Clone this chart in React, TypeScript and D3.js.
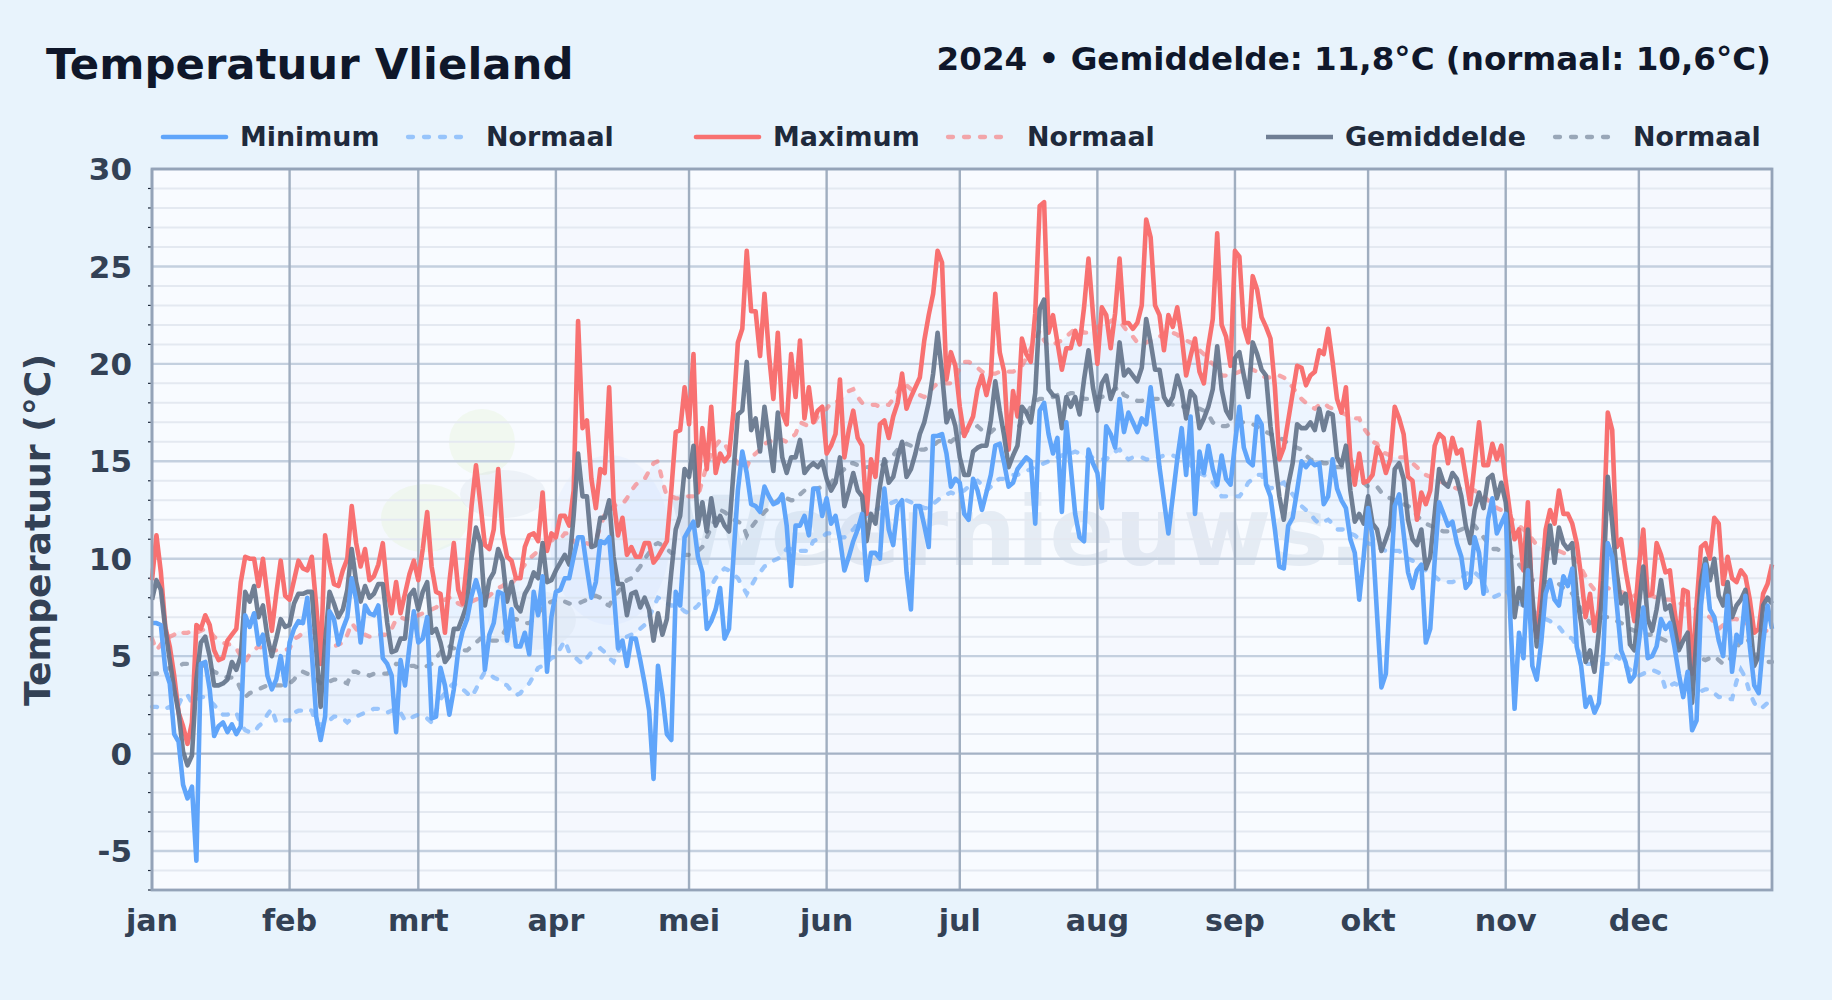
import React, { useEffect, useRef } from 'react';
import * as d3 from 'd3';

const monthLabels = ['jan', 'feb', 'mrt', 'apr', 'mei', 'jun', 'jul', 'aug', 'sep', 'okt', 'nov', 'dec'];

// daily values 2024, one row per month
const maxTemp = [
  8.9,11.2,9.3,6.5,5.5,4.0,2.1,1.4,0.5,1.6,6.6,6.4,7.1,6.6,5.3,4.8,4.9,5.8,6.1,6.4,8.8,10.1,10.0,10.0,8.6,10.0,8.1,6.3,8.2,9.9,8.1,
  7.9,8.9,9.9,9.5,9.4,10.1,7.6,4.6,11.2,9.8,8.7,8.6,9.4,10.0,12.7,10.8,9.6,10.5,8.9,9.1,9.7,10.8,8.4,7.2,8.8,7.2,8.2,9.2,9.9,
  8.9,10.5,12.4,9.6,8.3,8.2,6.2,8.8,10.8,8.4,7.7,9.9,12.7,14.8,12.8,10.7,10.5,11.5,14.6,11.3,10.1,9.9,9.0,9.0,10.6,11.2,11.3,10.9,13.4,10.4,11.3,
  11.1,12.2,12.2,11.7,13.5,22.2,16.7,17.1,14.1,12.6,14.6,14.4,18.8,13.0,11.2,12.1,10.2,10.6,10.1,10.1,10.8,10.8,9.8,10.1,10.5,10.9,13.5,16.5,16.6,18.8,
  16.9,20.5,13.4,16.7,14.6,17.8,14.4,15.4,15.0,15.3,17.5,21.1,21.8,25.8,22.7,22.7,20.4,23.6,20.5,18.2,21.6,17.5,16.9,20.5,18.3,21.2,17.2,18.8,17.0,17.6,17.8,
  15.4,15.8,16.4,19.2,15.2,16.6,17.6,16.2,15.8,12.3,15.1,14.2,16.9,17.1,16.2,17.3,18.0,19.5,17.7,18.3,18.8,19.3,21.2,22.5,23.6,25.8,25.2,19.2,20.6,19.9,
  17.8,16.3,16.8,17.3,18.7,19.4,18.4,19.4,23.6,20.6,19.6,15.6,18.6,17.3,21.3,20.5,20.1,22.6,28.1,28.3,21.6,22.5,21.1,19.7,20.8,20.8,21.7,21.0,22.9,25.4,22.6,
  20.0,22.9,22.5,20.8,22.6,25.4,22.1,22.1,21.8,22.1,23.0,27.4,26.5,23.0,22.5,20.7,22.5,21.9,22.9,21.4,19.4,20.4,21.3,19.6,19.0,20.9,22.3,26.7,22.0,21.4,19.9,
  25.8,25.5,21.9,21.1,24.5,23.8,22.4,21.9,21.3,18.8,15.1,15.7,17.1,18.5,19.9,19.8,18.9,19.4,19.6,20.7,20.5,21.8,20.1,18.2,17.5,18.8,15.2,13.8,15.4,13.9,
  14.0,14.3,15.7,15.3,14.4,15.1,17.8,17.2,16.4,14.2,14.0,12.0,13.4,12.8,13.5,15.8,16.4,16.2,14.9,16.2,15.4,15.6,14.2,12.8,14.9,17.0,14.8,14.8,15.9,15.1,15.8,
  14.0,12.3,11.0,11.5,9.4,12.9,7.6,6.0,8.6,11.5,12.5,11.8,13.5,12.3,12.3,11.8,10.8,9.1,7.0,8.2,6.3,7.4,11.1,17.5,16.6,10.6,11.0,9.4,8.1,6.8,
  9.6,11.5,8.1,8.2,10.8,10.2,9.3,9.4,7.4,5.7,8.4,8.3,4.1,7.6,10.6,10.8,10.0,12.1,11.8,8.7,10.1,9.0,8.8,9.4,9.1,7.9,6.2,6.4,8.2,8.7,9.7,
];

const minTemp = [
  6.7,6.7,6.6,4.3,3.6,1.0,0.6,-1.6,-2.3,-1.7,-5.5,4.6,4.7,3.3,0.9,1.4,1.6,1.1,1.5,1.0,1.4,7.1,6.5,7.2,5.6,6.1,4.0,3.3,3.8,5.0,3.5,
  5.7,6.4,6.8,6.7,8.0,5.2,1.9,0.7,1.9,7.3,6.9,5.6,6.4,7.0,9.0,7.9,5.7,7.6,7.2,7.1,7.6,4.9,4.6,4.0,1.1,4.8,3.5,5.5,7.3,
  5.7,5.9,7.0,1.8,1.9,4.4,3.5,2.0,3.3,5.3,6.3,6.9,8.1,8.9,8.1,4.3,6.1,6.7,8.3,8.2,5.8,7.4,5.5,5.5,6.2,5.1,8.3,7.1,9.1,4.2,7.0,
  8.3,8.4,9.0,9.0,10.1,11.1,11.1,9.5,8.0,8.8,10.9,10.8,11.1,8.4,5.4,5.8,4.5,5.9,5.9,4.8,3.6,2.2,-1.3,4.5,3.0,1.0,0.7,8.3,7.6,11.1,
  11.5,11.9,10.1,9.3,6.4,6.8,7.4,8.5,5.9,6.4,10.1,13.5,15.5,14.4,12.8,12.7,12.4,13.7,13.2,12.8,12.9,13.3,11.7,8.6,11.7,11.7,12.2,11.2,13.6,13.6,12.2,
  13.1,11.8,12.2,11.0,9.4,10.1,10.9,11.5,12.3,8.9,10.3,10.3,10.0,13.6,11.5,10.7,12.7,13.0,9.3,7.4,12.7,12.7,11.7,10.6,16.3,16.3,16.4,15.4,13.7,14.1,
  13.9,12.3,12.0,14.1,13.5,12.5,13.4,14.3,15.8,15.9,14.9,13.7,13.9,14.6,14.9,15.2,15.0,11.8,17.6,18.0,16.4,15.4,16.2,12.4,17.0,14.7,12.3,11.1,10.9,15.6,14.9,
  14.4,12.6,16.8,16.4,15.7,18.2,16.5,17.5,17.0,16.5,17.2,16.9,18.8,16.8,14.7,13.0,11.3,13.2,15.1,16.7,14.3,17.3,12.3,15.5,14.4,15.8,14.6,13.8,15.3,14.1,13.8,
  15.9,17.8,15.7,15.0,14.8,17.3,16.9,13.8,13.2,11.5,9.6,9.5,11.7,12.1,13.5,15.0,14.7,15.0,14.8,14.9,12.8,13.2,15.1,13.6,13.0,12.6,11.0,10.3,7.9,10.1,
  12.6,11.1,7.2,3.4,4.1,8.6,12.7,13.3,11.3,9.3,8.5,9.4,9.7,5.7,6.4,9.9,12.9,12.3,11.7,11.9,10.8,10.1,8.5,8.8,11.1,10.3,8.2,12.0,13.1,11.3,11.8,
  12.3,7.2,2.3,6.2,4.9,9.4,4.5,3.8,5.7,8.2,8.9,7.9,7.6,9.1,8.6,9.5,5.5,4.5,2.4,2.9,2.1,2.6,5.2,10.8,10.1,7.7,5.3,4.7,3.7,4.0,
  5.7,7.5,4.9,5.0,5.5,6.9,6.4,6.7,5.5,4.1,2.9,4.2,1.2,1.7,7.6,9.7,7.4,7.0,5.8,5.0,8.1,4.2,6.1,5.7,8.1,5.5,3.5,3.1,5.7,7.6,6.4,
];

const avgTemp = [
  7.9,8.9,8.4,6.4,4.8,3.3,2.1,0.1,-0.6,-0.1,3.8,5.7,6.0,5.0,3.5,3.5,3.6,3.8,4.7,4.3,5.0,8.3,7.8,8.6,7.0,7.6,6.0,5.0,5.9,6.9,6.5,
  6.6,7.7,8.2,8.2,8.3,8.3,5.3,2.4,5.7,8.3,7.7,7.0,7.4,8.4,10.5,8.8,7.8,8.6,8.0,8.2,8.7,8.7,6.7,5.2,5.3,5.9,5.9,8.1,8.4,
  7.4,8.3,8.8,6.2,6.4,5.7,4.7,5.0,6.4,6.4,7.0,7.7,10.1,11.6,10.8,7.6,8.9,9.3,10.5,9.9,7.8,8.8,7.6,7.3,8.2,8.6,9.3,9.0,10.8,8.8,8.9,
  9.4,9.8,10.2,9.7,12.2,15.4,13.2,13.2,10.6,10.7,12.1,12.1,13.0,10.1,8.7,8.7,7.1,8.2,8.3,7.5,8.0,7.4,5.8,7.2,6.1,6.9,9.3,11.5,12.2,14.6,
  14.2,15.8,11.7,12.9,11.4,13.1,11.7,12.2,11.7,11.4,14.4,17.4,17.6,20.1,16.6,17.2,15.5,17.8,16.1,14.5,17.5,15.2,14.4,15.2,15.2,16.1,14.4,14.7,14.9,14.7,15.0,
  14.1,13.5,13.9,15.2,12.7,13.5,14.4,13.5,13.2,10.9,12.3,11.8,13.7,15.1,13.9,14.2,15.2,16.0,14.2,14.6,15.4,16.4,17.0,18.0,19.5,21.6,19.5,17.0,17.6,16.8,
  15.2,14.3,14.3,15.5,15.7,15.8,15.8,17.1,19.1,17.6,16.3,14.7,15.3,15.8,17.8,17.5,17.0,18.5,22.8,23.3,18.7,18.4,18.3,16.7,18.3,17.8,18.3,17.4,19.2,20.7,18.8,
  17.6,19.0,19.4,18.2,18.8,21.1,19.4,19.7,19.4,19.1,19.8,22.3,21.1,19.7,19.7,18.3,17.9,18.3,19.4,18.6,17.2,18.6,18.3,16.7,17.2,17.8,18.7,20.9,18.7,17.6,17.2,
  20.3,20.6,19.4,18.3,21.1,20.5,19.7,19.4,16.8,15.1,13.2,12.0,13.8,14.9,16.9,16.7,16.7,17.0,16.6,17.7,16.6,17.5,17.4,15.2,14.8,15.8,13.5,11.9,12.3,11.8,
  13.2,11.8,11.5,10.4,11.0,11.7,14.6,14.9,14.1,12.0,11.0,10.7,11.5,9.5,10.1,12.3,14.6,13.9,13.7,14.4,14.1,13.2,11.7,10.8,12.5,13.4,12.6,14.1,14.3,13.1,13.9,
  12.9,10.6,7.0,8.5,7.6,11.5,8.1,5.5,7.2,9.6,11.7,9.8,11.6,10.8,10.5,10.8,8.1,6.7,4.7,5.3,4.2,6.3,8.9,14.2,11.8,9.3,7.7,8.2,5.6,5.3,
  7.6,9.6,6.9,6.3,7.4,8.9,7.4,7.6,6.5,5.3,5.8,6.2,2.6,6.0,8.8,10.0,8.9,10.0,8.1,7.6,8.8,7.0,7.6,7.9,8.4,6.9,4.5,5.0,7.6,8.0,7.7,
];

const normalMax = [
  5.9,5.3,5.6,5.9,6.0,6.1,6.3,6.2,6.2,6.3,6.2,6.3,6.4,6.3,6.0,5.8,5.7,5.6,5.6,5.4,5.0,4.7,5.1,5.3,5.5,5.4,5.4,5.3,5.3,5.3,5.3,
  5.4,5.9,6.0,6.2,6.3,6.3,6.1,5.9,5.7,5.5,5.5,5.6,5.7,6.1,6.7,6.4,6.1,6.1,6.0,6.0,6.1,6.1,6.1,6.4,6.9,7.0,6.9,6.9,7.0,
  7.1,7.2,7.3,7.4,7.5,7.7,7.9,8.0,8.0,7.7,7.6,7.7,7.8,7.9,8.0,8.0,8.1,8.3,8.5,8.6,8.8,8.7,9.0,9.4,9.7,10.0,10.2,10.4,10.7,10.5,10.9,
  11.2,11.0,11.3,11.3,10.9,10.7,10.7,10.8,10.7,11.0,11.6,12.3,12.4,12.7,12.8,12.8,13.1,13.5,13.8,14.0,14.1,14.5,14.9,15.0,14.0,13.2,13.2,13.1,13.1,13.2,
  13.2,13.2,13.2,14.0,14.8,15.4,15.8,16.1,15.9,15.5,15.2,14.9,14.6,14.7,15.2,15.4,15.6,15.9,16.0,16.1,16.1,16.1,16.0,16.2,16.4,17.0,16.9,16.8,16.9,17.3,17.6,
  17.7,18.0,18.0,18.2,18.3,18.6,18.7,18.3,18.0,18.0,17.9,17.9,17.8,17.9,17.9,18.2,18.6,19.0,18.9,18.7,18.5,18.4,18.3,18.5,18.8,19.0,19.1,19.0,19.0,19.3,
  19.8,20.1,20.1,20.0,19.8,19.6,19.5,19.5,19.5,19.6,19.6,19.6,19.6,19.7,19.9,20.3,20.8,21.3,21.7,21.2,20.9,21.0,21.1,21.2,21.4,21.6,21.8,21.8,21.6,21.6,21.7,
  21.9,22.0,22.0,22.2,22.3,22.2,21.9,21.6,21.4,21.1,21.0,21.1,21.2,21.3,21.4,21.5,21.7,21.6,21.5,21.3,21.2,21.1,20.9,20.7,20.5,20.2,20.0,19.8,19.4,19.4,19.5,
  19.5,19.6,19.7,19.8,19.7,19.6,19.4,19.3,19.3,19.4,19.4,19.3,19.1,18.8,18.5,18.2,18.0,17.8,17.7,17.9,18.0,17.8,17.7,17.6,17.5,17.4,17.3,17.2,17.2,16.7,
  16.4,16.0,15.9,15.5,15.4,15.3,15.2,15.2,15.2,15.1,14.9,14.7,14.5,14.3,14.2,14.1,14.0,13.9,13.8,13.7,13.6,13.6,13.6,13.6,13.5,13.3,13.2,13.0,12.9,12.6,12.5,
  12.4,12.1,11.9,11.7,11.5,11.3,11.0,10.7,10.6,10.5,10.5,10.4,10.4,10.3,10.2,10.1,9.9,9.5,9.1,8.7,8.4,8.5,8.5,8.5,8.4,8.3,8.3,8.2,8.2,8.1,
  8.1,8.1,8.1,8.1,8.0,8.0,7.9,7.9,7.8,7.7,7.7,7.6,7.5,7.4,7.3,7.1,7.0,6.7,6.4,6.6,6.8,6.9,6.9,6.8,6.7,6.6,6.5,6.4,6.3,6.3,6.2,
];

const normalMin = [
  2.4,2.4,2.3,2.3,2.4,2.2,2.5,3.0,3.0,2.6,2.7,2.9,2.9,2.7,2.5,2.2,2.0,2.0,2.1,2.1,1.5,1.2,1.1,1.1,1.4,1.6,2.0,2.3,1.6,1.6,1.7,
  1.7,2.1,2.2,2.2,2.3,2.2,1.5,1.5,1.5,1.7,1.9,1.9,1.8,1.6,1.8,1.9,2.0,2.1,2.2,2.3,2.3,2.2,2.1,2.2,2.3,2.1,1.7,1.8,1.9,
  2.0,1.9,1.8,1.6,2.2,2.8,3.1,3.4,3.6,3.4,3.3,3.1,2.9,3.3,3.8,4.2,4.1,3.9,3.8,3.6,3.5,3.2,3.0,3.1,3.4,3.6,4.0,4.4,4.5,4.7,4.9,
  5.0,5.4,5.8,5.2,5.0,4.8,4.6,4.9,5.2,5.3,5.4,5.2,4.9,4.7,5.2,5.6,6.0,6.1,6.2,6.4,6.6,7.0,7.5,8.0,7.9,7.7,7.6,7.6,7.5,7.3,
  7.2,7.4,7.6,7.9,8.2,8.6,9.0,9.3,9.5,9.4,9.2,9.0,8.6,8.2,8.6,9.0,9.3,9.6,9.7,9.9,10.0,10.2,10.5,10.5,10.4,10.4,10.4,10.4,10.9,11.0,11.1,
  11.3,11.3,11.2,11.1,11.1,11.3,11.5,11.8,12.0,12.2,12.4,12.5,12.6,12.7,12.8,12.9,13.0,13.0,13.0,12.9,12.8,12.7,12.6,12.6,12.8,13.0,13.2,13.3,13.4,13.3,
  13.4,13.5,13.7,13.9,14.0,13.8,13.5,13.7,14.0,14.1,14.1,14.2,14.3,14.3,14.4,14.5,14.6,14.7,14.8,14.9,15.0,15.1,15.2,15.3,15.4,15.4,15.5,15.4,15.3,15.2,15.2,
  15.1,15.1,15.1,15.3,15.5,15.6,15.3,15.1,15.2,15.2,15.2,15.1,15.1,15.2,15.2,15.3,15.3,15.3,15.2,15.1,15.0,14.8,14.6,14.4,14.3,14.1,13.9,13.6,13.2,13.2,13.2,
  13.2,13.2,13.5,13.9,14.1,14.3,14.3,13.8,13.6,13.7,13.8,13.9,13.6,13.3,13.0,12.7,12.5,12.3,12.0,11.8,11.9,12.0,11.8,11.5,11.5,11.5,11.3,11.2,11.0,10.9,
  10.8,10.7,10.6,10.5,10.4,10.3,10.4,10.4,10.2,10.0,9.9,9.7,9.5,9.4,9.2,9.1,8.9,8.8,8.8,8.8,8.9,9.0,9.2,9.4,9.3,9.1,8.8,8.2,8.0,8.1,8.2,
  8.4,8.1,7.9,7.7,7.6,7.5,7.3,7.2,7.1,6.9,6.8,6.6,6.5,6.2,6.0,5.9,5.5,5.0,4.6,4.6,4.7,4.7,4.6,4.6,4.7,5.0,4.8,4.5,4.3,4.2,
  4.0,4.1,4.2,4.3,4.2,4.1,3.3,3.5,3.6,3.5,3.4,3.3,3.3,3.2,3.2,3.3,3.3,3.1,2.9,2.9,2.8,2.8,3.7,4.3,3.9,3.1,2.6,2.3,2.4,2.6,2.7,
];

const normalAvg = [
  4.1,4.1,4.2,4.3,4.4,4.5,4.5,4.6,4.6,4.6,4.6,4.5,4.5,4.4,4.2,4.1,4.0,3.9,3.9,3.8,3.3,2.9,3.1,3.2,3.3,3.4,3.5,3.5,3.5,3.5,3.5,
  3.6,3.8,4.1,4.2,4.1,4.0,3.8,3.6,3.6,3.7,3.8,3.8,3.7,3.6,4.2,4.2,4.1,4.1,4.0,4.1,4.1,4.1,4.1,4.3,4.6,4.6,4.5,4.5,4.5,
  4.4,4.4,4.5,4.6,4.9,5.2,5.5,5.5,5.4,5.4,5.3,5.3,5.5,5.7,5.9,5.9,5.8,5.8,5.8,6.1,6.5,6.9,6.9,6.8,6.7,6.7,6.9,7.2,7.5,7.7,7.8,
  7.9,7.9,7.8,7.7,7.7,7.7,7.8,7.9,8.0,8.1,8.0,7.7,7.6,8.0,8.3,8.6,8.9,9.0,9.3,9.6,10.0,10.3,10.7,10.8,10.7,10.5,10.3,10.3,10.3,10.2,
  10.2,10.3,10.4,10.6,11.1,11.6,12.1,12.5,12.4,12.2,12.0,11.9,11.8,11.2,11.6,11.9,12.1,12.4,12.6,12.8,13.0,13.2,13.1,13.0,13.0,13.3,13.5,13.5,13.6,13.6,13.7,
  13.7,13.9,14.2,14.4,14.6,14.9,14.9,14.8,14.8,14.7,14.7,14.7,14.7,14.9,15.1,15.3,15.6,15.8,15.9,15.8,15.7,15.6,15.6,15.7,15.8,16.0,16.1,16.1,16.0,16.2,
  16.4,16.5,16.6,16.7,16.8,16.6,16.4,16.5,16.7,16.7,16.7,16.7,16.7,16.7,17.0,17.4,17.8,18.1,18.2,18.2,18.3,18.3,18.4,18.4,18.4,18.5,18.5,18.4,18.2,18.2,18.3,
  18.3,18.3,18.4,18.5,18.7,18.8,18.4,18.3,18.2,18.1,18.1,18.2,18.2,18.2,18.2,18.1,18.0,17.9,17.8,17.8,17.8,17.7,17.7,17.7,17.6,17.4,17.0,16.8,16.8,16.8,16.9,
  16.9,17.0,17.0,17.0,16.9,16.8,16.6,16.5,16.4,16.3,16.2,16.1,15.9,15.8,15.7,15.6,15.3,15.1,15.0,15.0,14.9,14.9,14.8,14.7,14.7,14.6,14.5,14.3,14.1,13.9,
  13.7,13.7,13.7,13.4,13.2,13.1,13.0,12.9,12.8,12.7,12.6,12.2,12.0,11.8,11.7,11.6,11.5,11.4,11.4,11.4,11.4,11.5,11.6,11.7,11.7,11.4,11.1,10.8,10.5,10.5,10.4,
  10.4,10.2,10.0,9.7,9.4,9.1,8.9,8.9,8.8,8.8,8.8,8.8,8.7,8.5,8.4,8.2,7.8,7.4,7.0,6.7,6.8,6.9,7.0,7.0,6.9,6.8,6.7,6.6,6.4,6.3,
  6.3,6.2,6.1,6.1,6.0,5.9,5.8,5.7,5.6,5.5,5.4,5.3,5.2,5.0,4.9,4.8,4.9,5.0,4.8,4.6,4.7,5.0,5.4,5.8,6.0,5.7,5.2,4.9,4.7,4.7,4.7,
];

const legendLabels = ['Minimum', 'Normaal', 'Maximum', 'Normaal', 'Gemiddelde', 'Normaal'];
const legendColors = ['#60a5fa', '#60a5fa', '#f87171', '#f87171', '#64748b', '#64748b'];
const legendDashed = [false, true, false, true, false, true];
const legendLineX = [163, 408, 696, 948, 1266, 1555];
const legendLineEnd = [226, 462, 759, 1003, 1333, 1616];
const legendTextX = [240, 486, 773, 1027, 1345, 1633];

const W = 1832;
const H = 1000;
const margin = { top: 169, right: 60, bottom: 110, left: 152 };
const FONT = '"DejaVu Sans", sans-serif';
const NORMAL_DASH = '5 11';

const App: React.FC = () => {
  const svgRef = useRef<SVGSVGElement>(null);

  useEffect(() => {
    if (!svgRef.current) return;
    const svg = d3.select(svgRef.current);
    svg.selectAll('*').remove();

    const days = d3.timeDay.range(new Date(2024, 0, 1), new Date(2025, 0, 1));
    const months = d3.timeMonth.range(new Date(2024, 0, 1), new Date(2025, 0, 1));

    const x = d3.scaleTime()
      .domain([days[0], days[days.length - 1]])
      .range([margin.left, W - margin.right]);
    const y = d3.scaleLinear()
      .domain([-7, 30])
      .range([H - margin.bottom, margin.top]);

    svg.append('rect').attr('width', W).attr('height', H).attr('fill', '#e8f3fc');
    svg.append('rect')
      .attr('x', margin.left).attr('y', margin.top)
      .attr('width', W - margin.left - margin.right)
      .attr('height', H - margin.top - margin.bottom)
      .attr('fill', '#f8fbff');

    // faint band on every other month
    months.forEach((m, i) => {
      if (i % 2 === 0) return;
      const end = i < 11 ? months[i + 1] : days[days.length - 1];
      svg.append('rect')
        .attr('x', x(m)).attr('y', margin.top)
        .attr('width', x(end) - x(m))
        .attr('height', H - margin.top - margin.bottom)
        .attr('fill', '#e2e8f5').attr('opacity', 0.13);
    });

    // watermark
    const wm = svg.append('g');
    const blobs: [number, number, number, number, string, number][] = [
      [482, 442, 33, 33, '#d6efb4', 0.2],
      [425, 518, 44, 34, '#d6efb4', 0.2],
      [503, 494, 43, 24, '#94a3b8', 0.1],
      [610, 540, 60, 85, '#93c5fd', 0.08],
      [532, 620, 44, 30, '#94a3b8', 0.08],
      [470, 580, 50, 40, '#93c5fd', 0.06],
    ];
    blobs.forEach(([cx, cy, rx, ry, fill, op]) => {
      wm.append('ellipse')
        .attr('cx', cx).attr('cy', cy).attr('rx', rx).attr('ry', ry)
        .attr('fill', fill).attr('opacity', op);
    });
    wm.append('text')
      .attr('x', 668).attr('y', 565)
      .attr('font-family', FONT).attr('font-weight', 700).attr('font-size', 96)
      .attr('fill', '#8ea5c2').attr('opacity', 0.17)
      .text('Weernieuws.');

    // grid
    d3.range(-7, 31).forEach(t => {
      const major = t % 5 === 0;
      svg.append('line')
        .attr('x1', margin.left).attr('x2', W - margin.right)
        .attr('y1', y(t)).attr('y2', y(t))
        .attr('stroke', t === 0 ? '#a4b2c5' : major ? '#c4d0df' : '#e4e9f1')
        .attr('stroke-width', major ? 2.4 : 2);
      if (!major) {
        svg.append('line')
          .attr('x1', margin.left - 4).attr('x2', margin.left)
          .attr('y1', y(t)).attr('y2', y(t))
          .attr('stroke', '#1e293b').attr('stroke-width', 1.2);
      }
    });
    months.forEach(m => {
      svg.append('line')
        .attr('x1', x(m)).attr('x2', x(m))
        .attr('y1', margin.top).attr('y2', H - margin.bottom)
        .attr('stroke', '#a0aec0').attr('stroke-width', 2.4);
    });

    const area = d3.area<number>()
      .x((_, i) => x(days[i]))
      .y0((_, i) => y(normalMin[i]))
      .y1(d => y(d));
    svg.append('path').datum(normalMax).attr('d', area)
      .attr('fill', '#60a5fa').attr('opacity', 0.07);

    const line = d3.line<number>()
      .x((_, i) => x(days[i]))
      .y(d => y(d));

    const drawNormal = (vals: number[], color: string) => {
      svg.append('path').datum(vals).attr('d', line)
        .attr('fill', 'none').attr('stroke', color).attr('stroke-width', 4.3)
        .attr('stroke-opacity', 0.6).attr('stroke-dasharray', NORMAL_DASH)
        .attr('stroke-linecap', 'round');
    };
    drawNormal(normalMin, '#60a5fa');
    drawNormal(normalMax, '#f87171');
    drawNormal(normalAvg, '#64748b');

    const drawMain = (vals: number[], color: string, opacity: number) => {
      svg.append('path').datum(vals).attr('d', line)
        .attr('fill', 'none').attr('stroke', color).attr('stroke-width', 4.6)
        .attr('stroke-opacity', opacity)
        .attr('stroke-linejoin', 'round');
    };
    drawMain(maxTemp, '#f87171', 1);
    drawMain(avgTemp, '#64748b', 0.92);
    drawMain(minTemp, '#60a5fa', 1);

    // frame
    svg.append('rect')
      .attr('x', margin.left).attr('y', margin.top)
      .attr('width', W - margin.left - margin.right)
      .attr('height', H - margin.top - margin.bottom)
      .attr('fill', 'none').attr('stroke', '#94a3b8').attr('stroke-width', 2.8);

    // axis labels
    d3.range(-5, 31, 5).forEach(t => {
      svg.append('text')
        .attr('x', 132).attr('y', y(t)).attr('dy', '0.36em')
        .attr('text-anchor', 'end')
        .attr('font-family', FONT).attr('font-weight', 700).attr('font-size', 31)
        .attr('fill', '#334155')
        .text(t);
    });
    months.forEach((m, i) => {
      svg.append('text')
        .attr('x', x(m)).attr('y', 931)
        .attr('text-anchor', 'middle')
        .attr('font-family', FONT).attr('font-weight', 700).attr('font-size', 30.2)
        .attr('fill', '#334155')
        .text(monthLabels[i]);
    });
    svg.append('text')
      .attr('transform', 'translate(50,530) rotate(-90)')
      .attr('text-anchor', 'middle')
      .attr('font-family', FONT).attr('font-weight', 700).attr('font-size', 36.2)
      .attr('fill', '#334155')
      .text('Temperatuur (°C)');

    // titles
    svg.append('text')
      .attr('x', 46).attr('y', 79)
      .attr('font-family', FONT).attr('font-weight', 700).attr('font-size', 43.4)
      .attr('fill', '#0f172a')
      .text('Temperatuur Vlieland');
    svg.append('text')
      .attr('x', 1771).attr('y', 70)
      .attr('text-anchor', 'end')
      .attr('font-family', FONT).attr('font-weight', 700).attr('font-size', 32.55)
      .attr('fill', '#0f172a')
      .text('2024 • Gemiddelde: 11,8°C (normaal: 10,6°C)');

    // legend
    legendLabels.forEach((label, i) => {
      svg.append('line')
        .attr('x1', legendLineX[i]).attr('x2', legendLineEnd[i])
        .attr('y1', 137).attr('y2', 137)
        .attr('stroke', legendColors[i])
        .attr('stroke-width', legendDashed[i] ? 4.3 : 4.6)
        .attr('stroke-opacity', legendDashed[i] ? 0.6 : i === 4 ? 0.92 : 1)
        .attr('stroke-dasharray', legendDashed[i] ? NORMAL_DASH : null)
        .attr('stroke-linecap', i === 4 ? 'butt' : 'round');
      svg.append('text')
        .attr('x', legendTextX[i]).attr('y', 146)
        .attr('font-family', FONT).attr('font-weight', 700).attr('font-size', 26.9)
        .attr('fill', '#1e293b')
        .text(label);
    });
  }, []);

  return (
    <svg
      ref={svgRef}
      width={W}
      height={H}
      style={{ position: 'absolute', left: 0, top: 0, display: 'block' }}
    />
  );
};

export default App;
